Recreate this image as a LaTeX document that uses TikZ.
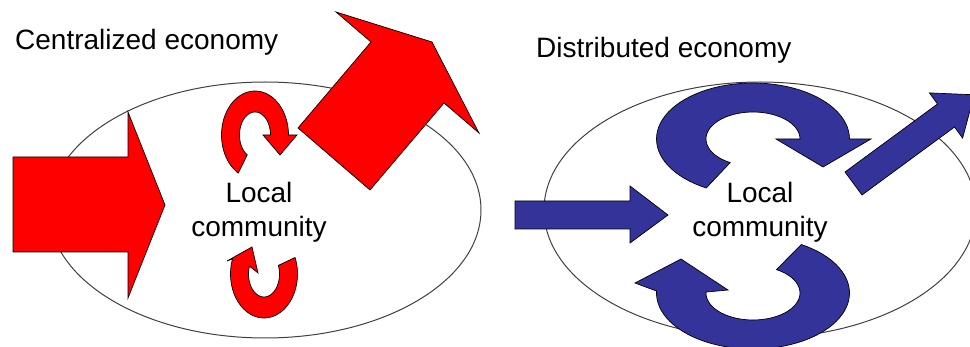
\documentclass[tikz,border=0pt]{standalone}
\usepackage{fontspec}
\setmainfont{Liberation Sans}
\definecolor{arrowred}{HTML}{FF0000}
\definecolor{arrowblue}{HTML}{333399}
\definecolor{ringgray}{HTML}{404040}
\begin{document}
\begin{tikzpicture}[x=1pt,y=-1pt,
  redshape/.style={fill=arrowred, draw=black, line width=0.7pt, line join=miter},
  blueshape/.style={fill=arrowblue, draw=black, line width=0.7pt, line join=miter},
  ring/.style={draw=ringgray, line width=1pt},
  lbl/.style={font=\fontsize{28}{34}\selectfont, inner sep=0pt, text=black}]
\useasboundingbox (0,0) rectangle (970,347);
\clip (0,0) rectangle (970,347);
\fill[white] (0,0) rectangle (970,347);

% community ellipses
\draw[ring] (265,210) ellipse [x radius=216pt, y radius=128pt];
\draw[ring] (760,210) ellipse [x radius=216pt, y radius=128pt];

% ---------- Centralized economy (red) ----------
% big inflow arrow
\filldraw[redshape] (13,157) -- (128,157) -- (128,112) -- (165,205) -- (128,298) -- (128,252) -- (13,252) -- cycle;
% big outflow arrow
\filldraw[redshape] (298,128) -- (371,42) -- (336,12) -- (432,42) -- (479,133) -- (444,103) -- (370,190) -- cycle;
% small circular arrow, top
\filldraw[redshape] plot[domain=120:360, samples=50] ({255+33.5*cos(\x)},{135+44*sin(\x)})
  -- (297,135) -- (280,155) -- (263,135)
  -- plot[domain=360:120, samples=50] ({255+15.5*cos(\x)},{135+23*sin(\x)}) -- cycle;
% small circular arrow, bottom
\filldraw[redshape] plot[domain=-22:200, samples=50] ({264+33.5*cos(\x)},{274+44*sin(\x)})
  -- (227,261) -- (252,247) -- (258,273)
  -- plot[domain=200:-22, samples=50] ({264+15.5*cos(\x)},{274+23*sin(\x)}) -- cycle;

% ---------- Distributed economy (blue) ----------
% inflow arrow
\filldraw[blueshape] (515,201) -- (630,201) -- (630,186) -- (668,215) -- (630,243) -- (630,229) -- (515,229) -- cycle;
% outflow arrow
\filldraw[blueshape] (845,172) -- (937.5,104) -- (929.4,92.9) -- (974.2,94.8) -- (962.6,138.1) -- (954.5,127) -- (862,195) -- cycle;
% large circular arrow, top
\filldraw[blueshape] plot[domain=119:360, samples=60] ({753+96.5*cos(\x)},{139+56*sin(\x)})
  -- (871,139) -- (823,167) -- (776,139)
  -- plot[domain=360:119, samples=60] ({753+47*cos(\x)},{139+27*sin(\x)}) -- cycle;
% large circular arrow, bottom
\filldraw[blueshape] plot[domain=-60:182, samples=60] ({753+96.5*cos(\x)},{293+56*sin(\x)})
  -- (635,283) -- (681,259) -- (728,290)
  -- plot[domain=182:-60, samples=60] ({753+47*cos(\x)},{293+27*sin(\x)}) -- cycle;

% ---------- texts ----------
\node[lbl, anchor=base west] (titleA) at (15,50) {Centralized economy};
\node[lbl, anchor=base west] (titleB) at (536,58) {Distributed economy};
\node[lbl, anchor=base] (locA) at (259,203) {Local};
\node[lbl, anchor=base] (comA) at (259,237) {community};
\node[lbl, anchor=base] (locB) at (760,203) {Local};
\node[lbl, anchor=base] (comB) at (760,237) {community};
\end{tikzpicture}
\end{document}
